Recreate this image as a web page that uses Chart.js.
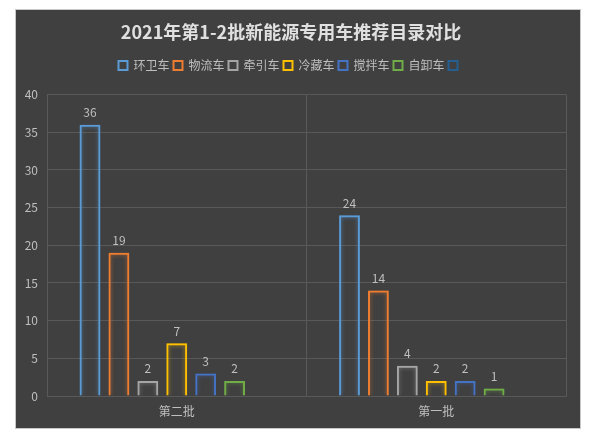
<!DOCTYPE html>
<html>
<head>
<meta charset="utf-8">
<script src="https://cdn.jsdelivr.net/npm/chart.js@4"></script>
<style>
  html, body { margin: 0; padding: 0; background: #fff; }
  #wrap { width: 600px; height: 445px; }
</style>
</head>
<body>
<div id="wrap"><canvas id="chart" width="600" height="445"></canvas></div>
<script>
// Chart data
const titleText = '2021年第1-2批新能源专用车推荐目录对比';
const batches = ['第二批', '第一批'];
const seriesNames = ['环卫车', '物流车', '牵引车', '冷藏车', '搅拌车', '自卸车', ''];
const sanitation = [36, 24];
const logistics = [19, 14];
const tractor = [2, 4];
const refrigerated = [7, 2];
const mixer = [3, 2];
const dumper = [2, 1];
const emptySeries = [null, null];
const seriesColors = ['#5b9bd5', '#ed7d31', '#a5a5a5', '#ffc000', '#4472c4', '#70ad47', '#255e91'];

const FONT = '"Noto Sans CJK SC", "Noto Sans", sans-serif';

const allValues = [sanitation, logistics, tractor, refrigerated, mixer, dumper, emptySeries];

// Dark panel behind everything
const panelPlugin = {
  id: 'panel',
  beforeDraw(chart) {
    const ctx = chart.ctx;
    ctx.save();
    ctx.fillStyle = '#404040';
    ctx.fillRect(16, 10, 564, 418);
    ctx.strokeStyle = '#c8c8c8';
    ctx.lineWidth = 1;
    ctx.strokeRect(15.5, 9.5, 565, 419);
    ctx.restore();
  }
};

// Extra room under the legend
const legendGap = {
  id: 'legendGap',
  beforeInit(chart) {
    const origFit = chart.legend.fit;
    chart.legend.fit = function () {
      origFit.call(this);
      this.height += 13;
    };
  }
};

// Soft glow on the bar outlines
const glowPlugin = {
  id: 'glow',
  beforeDatasetDraw(chart, args) {
    const ctx = chart.ctx;
    ctx.save();
    ctx.shadowColor = seriesColors[args.index] + '99';
    ctx.shadowBlur = 4;
  },
  afterDatasetDraw(chart) {
    chart.ctx.restore();
  }
};

// Value labels above bars
const valueLabels = {
  id: 'valueLabels',
  afterDatasetsDraw(chart) {
    const ctx = chart.ctx;
    ctx.save();
    ctx.fillStyle = '#bfbfbf';
    ctx.font = '12px ' + FONT;
    ctx.textAlign = 'center';
    ctx.textBaseline = 'bottom';
    chart.data.datasets.forEach((ds, i) => {
      const meta = chart.getDatasetMeta(i);
      meta.data.forEach((bar, j) => {
        const v = ds.data[j];
        if (v == null) return;
        ctx.fillText(v, bar.x, bar.y - 6);
      });
    });
    ctx.restore();
  }
};

const datasets = seriesNames.map((name, i) => ({
  label: name,
  data: allValues[i],
  backgroundColor: 'rgba(0,0,0,0)',
  borderColor: seriesColors[i],
  borderWidth: 2,
  categoryPercentage: 0.78,
  barPercentage: 0.72
}));

new Chart(document.getElementById('chart'), {
  type: 'bar',
  data: { labels: batches, datasets: datasets },
  options: {
    responsive: false,
    animation: false,
    layout: { padding: { left: 16, right: 34, top: 10, bottom: 17 } },
    plugins: {
      title: {
        display: true,
        text: titleText,
        color: '#e0e0e0',
        font: { family: FONT, size: 18, weight: 'bold' },
        padding: { top: 11, bottom: 13 }
      },
      legend: {
        display: true,
        labels: {
          color: '#bfbfbf',
          font: { family: FONT, size: 12 },
          boxWidth: 9,
          boxHeight: 9,
          padding: 4
        }
      },
      tooltip: { enabled: false }
    },
    scales: {
      x: {
        grid: { color: '#595959', offset: true, drawTicks: false },
        border: { color: '#595959' },
        ticks: { color: '#bfbfbf', font: { family: FONT, size: 12 }, padding: 8 },
        afterFit(scale) { scale.height = 32; }
      },
      y: {
        min: 0,
        max: 40,
        ticks: { stepSize: 5, color: '#bfbfbf', font: { family: FONT, size: 12 }, padding: 9 },
        grid: { color: '#595959', drawTicks: false },
        border: { display: false },
        afterFit(scale) { scale.width = 31; }
      }
    }
  },
  plugins: [panelPlugin, legendGap, glowPlugin, valueLabels]
});
</script>
</body>
</html>
